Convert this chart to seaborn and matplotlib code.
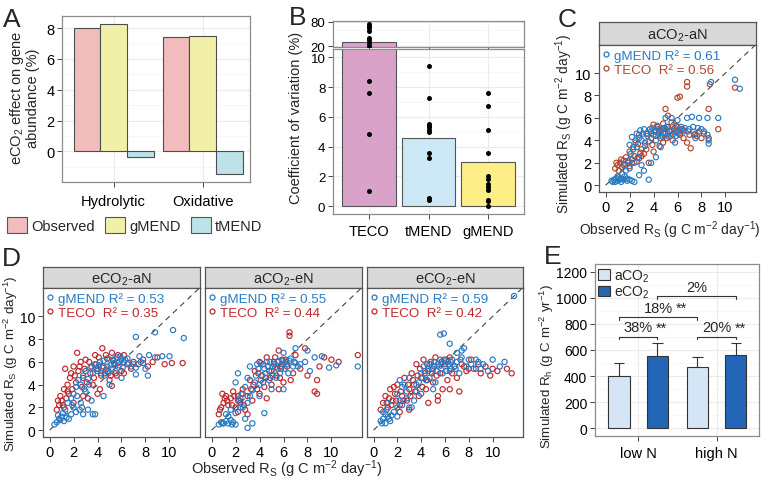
import numpy as np
import pandas as pd
import matplotlib
matplotlib.use("Agg")
import matplotlib.pyplot as plt
import seaborn as sns
from matplotlib.patches import Patch
from matplotlib.lines import Line2D
from matplotlib.ticker import MultipleLocator

sns.set_style("white")
plt.rcParams["font.family"] = ["Liberation Sans", "DejaVu Sans"]
plt.rcParams["mathtext.fontset"] = "custom"
plt.rcParams["mathtext.rm"] = "Liberation Sans"
plt.rcParams["mathtext.it"] = "Liberation Sans:italic"
plt.rcParams["mathtext.default"] = "regular"

# ---- dados ----
# A: efeito do eCO2 na abundancia de genes
enzymes = ["Hydrolytic", "Oxidative"]
a_models = ["Observed", "gMEND", "tMEND"]
a_obs = [8.0, 7.45]
a_gmend = [8.3, 7.5]
a_tmend = [-0.35, -1.5]
a_colors = ["#f1bcbc", "#f2f0a8", "#bde2e8"]

# B: coeficiente de variacao
b_models = ["TECO", "tMEND", "gMEND"]
b_bars = [30.5, 4.6, 3.0]
b_teco = [1.0, 4.85, 7.6, 8.4, 20.2, 28.0, 35.0, 41.0, 56.6, 63.6, 69.6, 75.8]
b_tmend = [9.4, 7.3, 5.5, 5.4, 5.3, 5.1, 5.0, 3.55, 3.25, 0.55, 0.45]
b_gmend = [7.6, 6.7, 5.1, 3.55, 2.0, 1.8, 1.5, 1.3, 1.1, 0.4, 0.35, 0.0]
b_colors = ["#d9a3c9", "#cce7f6", "#fdee88"]

# C / D: Rs simulado vs observado (x, y)
c_gmend = [(0.5, 0.4), (0.7, 0.5), (0.8, 0.3), (0.9, 0.6), (1.0, 0.4), (1.1, 0.7), (1.2, 0.5), (1.3, 0.3),
           (1.5, 0.5), (1.6, 0.8), (1.8, 0.6), (2.0, 0.5), (2.2, 0.4), (2.4, 0.3), (1.4, 1.0), (1.7, 1.3),
           (2.0, 1.5), (1.9, 2.2), (2.1, 2.8), (2.3, 3.2), (2.0, 3.6), (2.5, 3.8), (2.2, 4.3), (2.6, 4.6),
           (2.9, 4.9), (3.2, 5.0), (3.0, 4.0), (3.3, 3.5), (3.5, 4.4), (3.8, 4.8), (4.0, 4.5), (4.2, 4.0),
           (4.5, 4.8), (4.8, 4.3), (5.0, 5.0), (5.2, 4.6), (5.5, 4.9), (5.8, 5.1), (6.0, 4.7), (6.3, 5.2),
           (6.5, 4.8), (7.0, 5.0), (7.5, 4.6), (8.0, 5.0), (8.5, 4.5), (8.6, 4.0), (8.6, 3.7), (6.8, 6.0),
           (7.2, 6.1), (7.8, 6.0), (8.5, 6.0), (9.4, 6.0), (5.0, 6.0), (5.5, 6.0), (6.0, 5.8), (8.8, 9.2),
           (10.8, 9.4), (11.2, 8.6), (3.0, 1.8), (3.2, 1.3), (3.6, 0.5), (2.8, 0.9), (4.2, 2.5), (3.8, 2.0),
           (4.6, 3.4), (5.8, 3.8), (7.5, 4.2), (2.4, 2.0), (1.5, 1.8), (2.7, 2.5), (4.4, 4.6), (3.6, 3.9),
           (3.4, 4.6), (3.9, 5.1), (4.1, 4.9), (4.3, 5.2), (4.7, 5.0), (4.9, 4.7), (5.1, 5.2), (5.3, 4.3),
           (5.6, 4.5), (5.9, 4.4), (6.2, 4.9), (6.6, 5.1), (6.9, 4.8), (7.3, 5.2), (7.7, 5.1), (8.2, 4.8),
           (2.6, 3.4), (2.8, 4.2), (3.1, 4.6), (4.6, 4.4), (1.0, 0.8), (1.3, 0.6), (1.8, 0.4), (0.6, 0.3)]
c_teco = [(0.8, 1.5), (1.0, 1.8), (1.2, 2.0), (1.4, 1.6), (1.5, 2.2), (1.7, 2.5), (1.9, 2.0), (2.0, 1.7),
          (2.2, 2.3), (2.4, 2.6), (2.6, 2.1), (2.8, 2.4), (1.1, 1.3), (0.9, 2.0), (2.0, 3.0), (2.3, 3.4),
          (2.5, 4.0), (2.8, 4.5), (3.0, 3.2), (3.3, 3.8), (3.5, 4.6), (3.7, 5.0), (4.0, 5.4), (4.2, 4.4),
          (4.4, 5.0), (4.6, 4.2), (4.8, 3.8), (5.0, 4.6), (5.2, 5.2), (5.4, 4.4), (5.6, 4.0), (5.8, 4.8),
          (6.0, 5.2), (6.2, 4.5), (6.5, 4.2), (6.8, 3.8), (7.1, 3.3), (7.4, 4.5), (7.8, 4.8), (8.2, 4.6),
          (8.6, 4.2), (9.4, 5.0), (8.6, 6.8), (5.0, 6.8), (5.2, 6.2), (6.0, 7.8), (6.2, 7.9), (6.8, 9.2),
          (6.8, 8.8), (8.7, 9.0), (10.8, 8.7), (3.0, 2.6), (3.6, 2.0), (4.0, 3.0), (3.2, 2.8), (4.5, 3.5),
          (5.5, 5.6), (4.8, 5.5), (6.5, 4.9), (7.0, 4.5), (3.8, 4.2), (4.1, 4.8), (4.3, 5.3), (4.6, 4.9),
          (4.9, 5.1), (5.3, 4.8), (5.7, 5.0), (6.1, 4.6), (3.4, 3.2), (2.9, 2.9), (2.2, 2.0), (1.6, 1.9),
          (1.3, 2.3), (3.9, 3.6), (5.1, 4.2), (5.9, 5.3), (6.4, 5.0), (7.6, 4.4), (8.0, 4.2), (2.7, 3.7)]

d1_gmend = [(0.4, 0.5), (0.6, 0.7), (0.8, 1.0), (1.0, 1.2), (1.2, 0.8), (1.4, 1.1), (0.7, 1.3), (1.1, 1.5),
            (1.6, 1.0), (1.8, 1.4), (2.0, 2.0), (2.2, 1.6), (2.5, 1.8), (2.8, 1.4), (3.2, 1.8), (3.8, 1.4),
            (1.5, 2.4), (1.8, 2.8), (2.0, 3.2), (2.2, 3.8), (2.4, 4.4), (2.6, 4.0), (2.8, 4.8), (3.0, 5.2),
            (3.2, 4.5), (3.4, 5.5), (3.6, 5.0), (3.8, 5.8), (4.0, 5.2), (4.2, 6.0), (4.4, 5.5), (4.6, 4.8),
            (4.8, 5.6), (5.0, 6.2), (5.2, 5.4), (5.4, 5.9), (5.6, 6.4), (5.8, 5.7), (6.0, 6.2), (6.2, 6.0),
            (6.5, 6.3), (6.8, 5.6), (7.0, 5.8), (7.2, 5.5), (7.5, 6.5), (7.8, 5.9), (8.0, 5.4), (8.3, 6.6),
            (8.8, 6.4), (9.4, 6.5), (10.0, 6.5), (7.2, 8.2), (8.8, 8.6), (10.3, 8.8), (11.2, 8.1), (7.2, 4.9),
            (8.2, 4.8), (3.6, 1.4), (4.5, 3.0), (3.0, 3.4), (3.5, 2.6), (5.0, 4.0), (6.0, 4.6), (2.6, 2.4),
            (3.9, 5.4), (4.1, 5.7), (4.3, 5.0), (4.5, 6.1), (4.7, 5.3), (4.9, 5.0), (5.1, 5.7), (5.3, 6.1),
            (5.5, 5.2), (5.7, 5.9), (5.9, 6.5), (6.1, 5.5), (6.3, 6.2), (3.3, 4.0), (2.9, 3.6), (2.3, 3.0),
            (1.9, 2.2), (1.3, 1.8), (0.9, 0.9), (2.7, 2.0), (7.6, 6.0), (6.6, 5.9)]
d1_teco = [(0.6, 1.8), (0.8, 2.2), (1.0, 2.6), (1.2, 2.0), (1.4, 2.8), (1.6, 3.2), (0.9, 3.0), (1.2, 3.6),
           (1.5, 4.0), (1.7, 4.6), (1.3, 5.4), (1.8, 5.0), (2.0, 5.6), (2.2, 4.2), (2.4, 5.2), (2.6, 6.0),
           (2.8, 4.6), (3.0, 6.2), (2.3, 6.8), (3.4, 5.0), (3.6, 4.0), (3.8, 6.6), (4.0, 5.4), (4.2, 3.6),
           (4.4, 7.2), (4.6, 5.0), (4.8, 6.3), (5.0, 4.4), (5.2, 6.8), (5.4, 5.8), (5.6, 4.8), (5.8, 6.0),
           (6.0, 5.2), (6.2, 6.6), (6.5, 5.8), (6.8, 5.4), (7.0, 6.0), (7.4, 5.8), (7.8, 6.2), (8.2, 5.6),
           (8.6, 6.0), (9.0, 6.4), (9.6, 5.8), (10.2, 5.9), (11.1, 5.9), (3.2, 2.8), (2.0, 2.4), (2.8, 3.0),
           (4.0, 3.2), (5.2, 3.9), (6.2, 5.0), (1.9, 3.6), (2.1, 4.8), (2.5, 5.6), (2.7, 3.8), (2.9, 5.4),
           (3.1, 4.2), (3.3, 6.0), (3.5, 5.6), (3.7, 4.6), (3.9, 5.8), (4.1, 6.4), (4.3, 4.8), (4.5, 5.6),
           (4.7, 6.6), (4.9, 5.2), (5.1, 4.8), (5.3, 6.2), (5.5, 5.0), (5.7, 6.6), (1.1, 2.2), (0.7, 2.6),
           (1.5, 3.4)]

d2_gmend = [(0.6, 0.5), (0.8, 0.7), (1.0, 0.6), (1.2, 0.8), (1.4, 0.6), (1.6, 0.9), (1.8, 0.7), (2.0, 0.5),
            (1.2, 1.4), (1.6, 1.8), (2.0, 1.5), (2.4, 2.0), (2.8, 1.0), (3.0, 0.2), (3.4, 0.6), (2.2, 2.6),
            (2.6, 3.2), (2.0, 4.2), (2.2, 5.0), (2.8, 3.8), (3.0, 4.6), (3.2, 5.6), (3.4, 3.5), (3.6, 4.2),
            (3.8, 5.8), (4.0, 3.0), (4.2, 4.8), (4.4, 5.4), (4.6, 6.0), (4.8, 4.4), (5.0, 5.2), (5.2, 5.8),
            (5.4, 4.6), (5.6, 6.1), (5.8, 5.4), (6.0, 5.8), (6.2, 6.0), (6.4, 5.0), (6.6, 6.3), (6.8, 5.6),
            (7.0, 5.9), (7.4, 5.8), (7.8, 6.0), (8.2, 5.2), (8.6, 6.4), (9.2, 6.5), (9.8, 5.5), (10.4, 5.7),
            (12.2, 5.6), (7.0, 7.2), (8.0, 7.0), (6.0, 6.8), (4.0, 4.0), (5.0, 3.6), (3.0, 2.4), (6.0, 3.6),
            (4.4, 1.5), (2.4, 2.8), (3.7, 4.8), (3.9, 5.4), (4.1, 5.9), (4.3, 4.2), (4.5, 5.0), (4.7, 5.6),
            (4.9, 6.0), (5.1, 4.8), (5.3, 5.5), (5.5, 6.0), (5.7, 5.0), (5.9, 6.1), (6.1, 5.4), (6.3, 5.8),
            (6.5, 6.1), (6.9, 6.0), (7.2, 5.6), (2.6, 2.0), (3.2, 3.0), (1.4, 1.2), (0.9, 0.6), (1.7, 0.5)]
d2_teco = [(0.6, 1.4), (0.8, 2.0), (1.0, 2.4), (1.2, 3.0), (0.9, 3.2), (1.4, 2.2), (1.6, 2.8), (1.8, 3.4),
           (2.0, 2.0), (2.2, 3.0), (2.4, 2.4), (2.6, 3.6), (2.8, 1.8), (3.0, 3.0), (3.2, 4.4), (3.4, 2.6),
           (3.6, 5.2), (3.8, 3.6), (4.0, 6.0), (4.2, 4.8), (4.4, 3.8), (4.6, 6.4), (4.8, 5.2), (5.0, 4.0),
           (5.2, 6.0), (5.4, 4.8), (5.6, 7.0), (5.8, 5.6), (6.0, 4.2), (6.2, 6.2), (6.5, 8.6), (6.5, 8.3),
           (6.8, 5.0), (7.0, 6.6), (7.4, 5.4), (7.8, 7.2), (8.0, 4.8), (8.6, 3.4), (8.8, 4.4), (8.8, 3.2),
           (9.0, 5.6), (9.4, 6.4), (10.0, 6.2), (10.6, 6.0), (12.2, 6.6), (3.0, 1.4), (2.2, 1.6), (4.6, 2.8),
           (5.6, 3.6), (6.6, 4.4), (4.0, 3.2), (1.3, 2.6), (1.7, 2.2), (1.9, 3.0), (2.3, 2.6), (2.5, 3.2),
           (2.7, 2.2), (3.3, 3.6), (3.5, 4.0), (3.9, 5.0), (4.1, 4.4), (4.3, 5.8), (4.5, 4.6), (4.7, 5.6),
           (4.9, 4.6), (5.1, 5.6), (5.3, 6.4), (5.5, 5.4), (5.7, 4.6), (5.9, 6.2), (6.3, 5.6), (0.7, 1.8),
           (1.1, 2.8)]

d3_gmend = [(0.6, 0.8), (0.8, 1.0), (1.0, 0.6), (1.2, 1.2), (1.4, 0.8), (0.8, 1.6), (1.1, 1.8), (1.5, 1.3),
            (1.7, 1.6), (2.0, 2.0), (2.2, 2.6), (2.0, 3.2), (2.4, 3.8), (2.2, 4.4), (2.6, 4.0), (2.8, 3.4),
            (3.0, 4.6), (3.2, 2.0), (3.4, 2.6), (3.6, 3.4), (3.8, 4.2), (4.0, 5.0), (4.2, 5.6), (4.4, 4.4),
            (4.6, 5.2), (4.8, 6.0), (5.0, 5.4), (5.2, 4.2), (5.4, 5.8), (5.6, 6.2), (5.8, 5.0), (6.0, 5.6),
            (6.2, 6.0), (6.4, 5.2), (6.6, 6.2), (6.8, 5.6), (7.0, 6.0), (7.2, 5.0), (7.4, 6.4), (7.8, 5.6),
            (8.0, 6.2), (8.4, 5.4), (8.8, 6.0), (9.2, 5.8), (9.6, 5.2), (10.0, 6.2), (10.6, 5.6), (11.0, 6.0),
            (7.0, 6.8), (7.6, 7.2), (7.4, 7.0), (5.6, 8.4), (5.9, 8.5), (6.4, 7.6), (11.8, 11.8), (4.0, 3.2),
            (5.0, 3.6), (2.0, 1.2), (3.0, 2.0), (1.2, 2.4), (4.1, 4.6), (4.3, 5.2), (4.5, 5.8), (4.7, 4.6),
            (4.9, 5.4), (5.1, 6.0), (5.3, 5.2), (5.5, 5.6), (5.7, 5.8), (5.9, 6.2), (6.1, 5.2), (6.3, 5.8),
            (6.5, 6.0), (6.9, 5.4), (7.3, 6.2), (8.2, 5.8), (8.6, 6.2), (9.0, 5.4), (2.4, 2.2), (2.8, 2.8),
            (3.6, 4.0), (0.7, 0.6), (1.0, 1.4), (1.3, 1.0)]
d3_teco = [(0.6, 1.8), (0.8, 2.4), (1.0, 3.0), (1.2, 2.0), (1.4, 3.6), (1.6, 2.6), (1.8, 3.2), (2.0, 4.0),
           (2.2, 2.2), (2.4, 3.0), (2.6, 4.6), (2.8, 2.6), (3.0, 3.6), (3.2, 5.0), (3.4, 4.0), (3.6, 5.8),
           (3.8, 3.0), (4.0, 4.6), (4.2, 6.2), (4.4, 3.6), (4.6, 5.4), (4.8, 6.0), (5.0, 4.2), (5.2, 6.4),
           (5.4, 3.0), (5.6, 5.0), (5.8, 3.6), (6.0, 5.8), (6.2, 4.4), (6.4, 6.4), (6.6, 5.0), (6.8, 5.6),
           (7.0, 4.6), (7.4, 5.8), (7.8, 5.2), (8.2, 6.2), (8.6, 5.4), (9.0, 5.0), (9.4, 5.6), (9.8, 4.8),
           (10.4, 5.2), (11.2, 5.4), (11.6, 5.0), (4.6, 2.4), (5.4, 2.6), (6.4, 3.6), (7.2, 3.4), (3.0, 1.8),
           (2.2, 1.6), (1.1, 2.4), (1.3, 2.8), (1.5, 2.2), (1.7, 3.8), (1.9, 2.6), (2.3, 3.4), (2.5, 2.6),
           (2.9, 4.0), (3.1, 3.0), (3.3, 4.4), (3.5, 3.4), (3.7, 4.8), (3.9, 5.4), (4.1, 3.8), (4.3, 5.0),
           (4.5, 4.4), (4.7, 5.8), (4.9, 5.0), (5.1, 5.6), (5.3, 4.8), (5.7, 6.0), (6.1, 6.2), (6.5, 5.4),
           (7.6, 5.6), (8.0, 5.4), (8.8, 5.8), (10.0, 5.4)]

facets = ["aCO$_2$-aN", "eCO$_2$-aN", "aCO$_2$-eN", "eCO$_2$-eN"]
r2_gmend = [0.61, 0.53, 0.55, 0.59]
r2_teco = [0.56, 0.35, 0.44, 0.42]
col_gmend = "#2a7bc4"
col_teco_c = "#b5462e"
col_teco_d = "#c0282e"

# E: Rh simulado
e_n = ["low N", "high N"]
e_co2 = ["aCO$_2$", "eCO$_2$"]
e_aco2 = [402, 472]
e_eco2 = [551, 564]
e_aco2_sd = [98, 72]
e_eco2_sd = [100, 87]
e_colors = ["#d5e5f5", "#2366b5"]
# (barra i, barra j, altura, texto, sig)
e_brackets = [(0, 1, 702, "38%", "**"), (2, 3, 702, "20%", "**"),
              (0, 2, 851, "18%", "**"), (1, 3, 1013, "2%", "")]

# ---- figura ----
W, H = 762, 481
fig = plt.figure(figsize=(W / 100, H / 100), dpi=100)


def px_axes(x0, y0, x1, y1):
    return fig.add_axes([x0 / W, 1 - y1 / H, (x1 - x0) / W, (y1 - y0) / H])


def ftext(x, y, s, **kw):
    fig.text(x / W, 1 - y / H, s, **kw)


def gg_style(ax, grid=True, spine="#8c8c8c"):
    for s in ax.spines.values():
        s.set_visible(True)
        s.set_color(spine)
        s.set_linewidth(0.9)
    ax.tick_params(bottom=True, left=True, length=3.5, width=0.7, color="#444444",
                   labelsize=10.5, pad=2, labelcolor="black")
    ax.set_xlabel("")
    ax.set_ylabel("")
    if grid:
        ax.grid(True, which="major", color="#ebebeb", lw=0.8)
        ax.grid(True, which="minor", axis="y", color="#f4f4f4", lw=0.5)
        ax.set_axisbelow(True)
    else:
        ax.grid(False)


# Painel A
axA = px_axes(62, 17, 250, 183)
dfA = pd.DataFrame({"enzyme": enzymes * 3,
                    "model": np.repeat(a_models, 2),
                    "value": a_obs + a_gmend + a_tmend})
sns.barplot(data=dfA, x="enzyme", y="value", hue="model", hue_order=a_models,
            palette=a_colors, saturation=1, width=0.9, gap=0, edgecolor="#4d4d4d", linewidth=0.8,
            errorbar=None, legend=False, ax=axA)
axA.set_ylim(-1.99, 8.79)
axA.set_xlim(-0.58, 1.53)
axA.yaxis.set_major_locator(MultipleLocator(2))
axA.yaxis.set_minor_locator(MultipleLocator(1))
gg_style(axA)
axA.tick_params(axis="x", labelsize=10.5, pad=5)
ftext(24, 98, "eCO$_2$ effect on gene\nabundance (%)", rotation=90, ha="center",
      va="center", fontsize=10.5, linespacing=1.0)
fig.legend(handles=[Patch(facecolor=c, edgecolor="#555555", lw=0.8, label=m)
                    for c, m in zip(a_colors, a_models)],
           loc="center left", bbox_to_anchor=(7 / W, 1 - 226 / H), ncol=3, frameon=False,
           fontsize=10.5, handlelength=1.4, handleheight=1.4, handletextpad=0.25,
           columnspacing=0.7, borderaxespad=0, borderpad=0)

# Painel B (eixo partido)
axBt = px_axes(333, 22, 524, 48)
axBb = px_axes(333, 50, 524, 215)
dfB = pd.DataFrame({"model": b_models, "cv": b_bars})
dfBp = pd.DataFrame({"model": ["TECO"] * len(b_teco) + ["tMEND"] * len(b_tmend) + ["gMEND"] * len(b_gmend),
                     "cv": b_teco + b_tmend + b_gmend})
for ax in (axBt, axBb):
    sns.barplot(data=dfB, x="model", y="cv", hue="model", order=b_models, palette=b_colors,
                saturation=1, width=0.9, edgecolor="#555555", linewidth=0.8, errorbar=None,
                legend=False, ax=ax)
    sns.stripplot(data=dfBp, x="model", y="cv", order=b_models, jitter=False, color="black",
                  size=3.6, ax=ax)
    ax.set_xlim(-0.6, 2.6)
    gg_style(ax)
    ax.tick_params(axis="y", labelsize=9.5)
axBt.set_ylim(18, 82)
axBt.set_yticks([20, 80])
axBt.yaxis.set_minor_locator(MultipleLocator(30))
axBt.tick_params(axis="x", labelbottom=False)
axBb.set_ylim(-0.52, 10.56)
axBb.yaxis.set_major_locator(MultipleLocator(2))
axBb.yaxis.set_minor_locator(MultipleLocator(1))
axBb.tick_params(axis="x", labelsize=10.5, pad=4)
ftext(296, 118, "Coefficient of variation (%)", rotation=90, ha="center", va="center",
      fontsize=10.5)


# Paineis C e D
def strip(x0, y0, x1, y1, label):
    ax = px_axes(x0, y0, x1, y1)
    ax.set_facecolor("#d9d9d9")
    for s in ax.spines.values():
        s.set_visible(True)
        s.set_color("#555555")
        s.set_linewidth(0.9)
    ax.set_xticks([])
    ax.set_yticks([])
    ax.text(0.5, 0.45, label, ha="center", va="center", fontsize=10.5, transform=ax.transAxes)


def scatter_panel(ax, gm, te, te_col, r2g, r2t, show_y=True):
    sns.scatterplot(x=[p[0] for p in te], y=[p[1] for p in te], ax=ax, s=14,
                    color=te_col, edgecolor=te_col, facecolor="none", linewidth=0.85)
    sns.scatterplot(x=[p[0] for p in gm], y=[p[1] for p in gm], ax=ax, s=14,
                    color=col_gmend, edgecolor=col_gmend, facecolor="none", linewidth=0.85)
    ax.plot([0, 13], [0, 13], ls=(0, (5, 4)), color="#444444", lw=0.8, zorder=0)
    ax.set_xlim(-0.55, 12.55)
    ax.set_ylim(-0.6, 12.5)
    ax.set_xticks(range(0, 11, 2))
    ax.set_yticks(range(0, 11, 2))
    gg_style(ax, grid=False, spine="#555555")
    if not show_y:
        ax.tick_params(axis="y", left=False, labelleft=False)
    hs = [Line2D([], [], ls="", marker="o", ms=3.6, mfc="none", mec=col_gmend, mew=0.9),
          Line2D([], [], ls="", marker="o", ms=3.6, mfc="none", mec=te_col, mew=0.9)]
    leg = ax.legend(hs, [f"gMEND R² = {r2g:.2f}", f"TECO  R² = {r2t:.2f}"],
                    loc="upper left", frameon=False, fontsize=9.6, handlelength=0.5,
                    handletextpad=0.35, labelspacing=0.15, borderaxespad=0.1, borderpad=0.2)
    leg.set_zorder(10)
    for t, c in zip(leg.get_texts(), [col_gmend, te_col]):
        t.set_color(c)


strip(599, 23, 756, 46, facets[0])
axC = px_axes(599, 46, 756, 193)
scatter_panel(axC, c_gmend, c_teco, col_teco_c, r2_gmend[0], r2_teco[0])
ftext(564, 124, "Simulated R$_S$ (g C m$^{-2}$ day$^{-1}$)", rotation=90, ha="center",
      va="center", fontsize=9.8)
ftext(670, 230, "Observed R$_S$ (g C m$^{-2}$ day$^{-1}$)", ha="center", va="center",
      fontsize=10)

d_x = [(43, 200), (205, 362), (367, 523)]
d_data = [(d1_gmend, d1_teco), (d2_gmend, d2_teco), (d3_gmend, d3_teco)]
for i, ((x0, x1), (gm, te)) in enumerate(zip(d_x, d_data)):
    strip(x0, 268, x1, 289, facets[i + 1])
    ax = px_axes(x0, 289, x1, 438)
    scatter_panel(ax, gm, te, col_teco_d, r2_gmend[i + 1], r2_teco[i + 1], show_y=(i == 0))
    if i == 0:
        ax.tick_params(axis="y", labelsize=10)
ftext(10.5, 364, "Simulated R$_S$ (g C m$^{-2}$ day$^{-1}$)", rotation=90, ha="center",
      va="center", fontsize=9.6)
ftext(287, 469, "Observed R$_S$ (g C m$^{-2}$ day$^{-1}$)", ha="center", va="center",
      fontsize=10.5)

# Painel E
axE = px_axes(595, 265, 759, 437)
dfE = pd.DataFrame({"N": e_n * 2, "co2": np.repeat(e_co2, 2), "rh": e_aco2 + e_eco2})
sns.barplot(data=dfE, x="N", y="rh", hue="co2", hue_order=e_co2, palette=e_colors,
            saturation=1, width=0.98, gap=0.45, edgecolor="#333333", linewidth=0.8,
            errorbar=None, legend=False, ax=axE)
bars = sorted([p for p in axE.patches if p.get_width() > 0], key=lambda p: p.get_x())
sds = [e_aco2_sd[0], e_eco2_sd[0], e_aco2_sd[1], e_eco2_sd[1]]
centers = [p.get_x() + p.get_width() / 2 for p in bars]
for p, xc, sd in zip(bars, centers, sds):
    top = p.get_height()
    cw = p.get_width() / 4
    axE.vlines(xc, top, top + sd, color="#333333", lw=0.8)
    axE.hlines(top + sd, xc - cw, xc + cw, color="#333333", lw=0.8)
for i, j, yb, lab, sig in e_brackets:
    xi, xj = centers[i], centers[j]
    axE.plot([xi, xi, xj, xj], [yb - 20, yb, yb, yb - 20], color="#333333", lw=0.8)
    mid = (xi + xj) / 2
    axE.text(mid, yb + 18, lab, ha="center", va="bottom", fontsize=10.5)
    if sig:
        axE.annotate(sig, xy=(mid, yb + 18), xytext=(13, 0), textcoords="offset points",
                     ha="left", va="bottom", fontsize=10.5)
axE.set_ylim(-61, 1261)
axE.set_xlim(-0.55, 1.54)
axE.yaxis.set_major_locator(MultipleLocator(200))
axE.yaxis.set_minor_locator(MultipleLocator(100))
gg_style(axE)
axE.tick_params(axis="x", labelsize=10.5, pad=4)
axE.tick_params(axis="y", labelsize=10)
axE.legend(handles=[Patch(facecolor=c, edgecolor="#333333", lw=0.8, label=l)
                    for c, l in zip(e_colors, e_co2)],
           loc="upper left", frameon=False, fontsize=10, handlelength=0.8, handleheight=0.8,
           handletextpad=0.35, labelspacing=0.0, borderaxespad=0.15, borderpad=0.1)
ftext(547, 366, "Simulated R$_h$ (g C m$^{-2}$ yr$^{-1}$)", rotation=90, ha="center",
      va="center", fontsize=9.6)

# letras dos paineis
for lab, x, y in [("A", 3, 27), ("B", 289, 25), ("C", 558, 27), ("D", 2, 266), ("E", 544, 264)]:
    ftext(x, y, lab, fontsize=19, ha="left", va="baseline")

fig.savefig("out.png", dpi=100)
